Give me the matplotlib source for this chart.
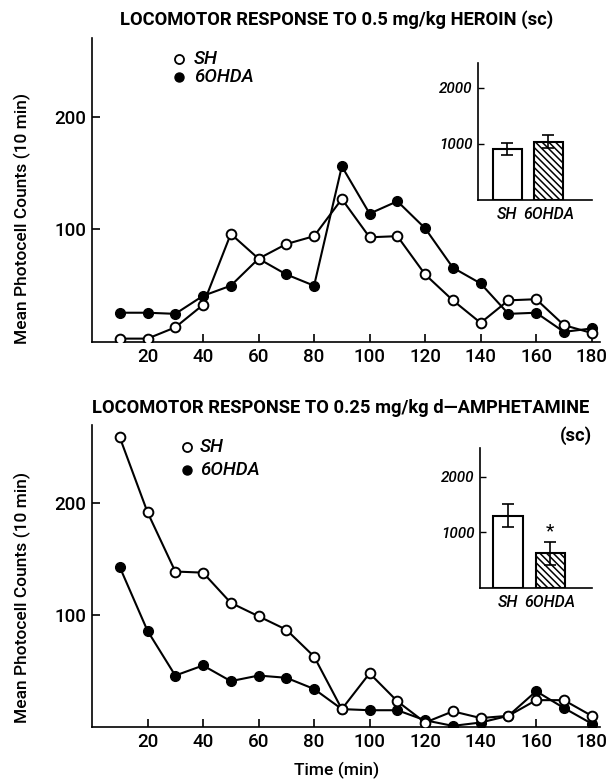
import matplotlib
matplotlib.use("Agg")
import matplotlib.pyplot as plt

# ---------------- data ----------------
time_min = [10, 20, 30, 40, 50, 60, 70, 80, 90, 100, 110, 120, 130, 140, 150, 160, 170, 180]

heroin_sh = [3, 3, 13, 33, 96, 74, 87, 94, 127, 93, 94, 60, 37, 17, 37, 38, 15, 8]
heroin_6ohda = [26, 26, 25, 41, 50, 74, 60, 50, 156, 114, 125, 101, 66, 52, 25, 26, 9, 12]

amph_sh = [259, 192, 139, 138, 111, 99, 87, 63, 16, 48, 23, 4, 14, 8, 10, 24, 24, 10]
amph_6ohda = [143, 86, 46, 55, 41, 46, 44, 34, 16, 15, 15, 6, 1, 4, 10, 32, 17, 3]

groups = ["SH", "6OHDA"]
heroin_totals = [910, 1040]
heroin_sem = [100, 110]
amph_totals = [1300, 622]
amph_sem = [210, 200]

main_yticks = [100, 200]
main_xticks = [20, 40, 60, 80, 100, 120, 140, 160, 180]
inset_yticks = [1000, 2000]

titles = ["LOCOMOTOR RESPONSE TO 0.5 mg/kg HEROIN (sc)",
          "LOCOMOTOR RESPONSE TO 0.25 mg/kg d\u2014AMPHETAMINE"]
ylabel = "Mean Photocell Counts (10 min)"
xlabel = "Time (min)"

# ---------------- style ----------------
plt.rcParams["font.family"] = ["Roboto", "DejaVu Sans"]
plt.rcParams["hatch.linewidth"] = 1.1
W, H = 611, 781
fig = plt.figure(figsize=(W / 100, H / 100), dpi=100)


def frac_box(l, t, r, b):
    return [l / W, 1 - b / H, (r - l) / W, (b - t) / H]


def main_panel(box, sh, ohda):
    ax = fig.add_axes(box)
    ax.plot(time_min, ohda, "-o", color="black", lw=1.5, ms=7,
            mfc="black", mec="black", zorder=3)
    ax.plot(time_min, sh, "-o", color="black", lw=1.5, ms=7,
            mfc="white", mec="black", mew=1.4, zorder=4)
    ax.set_xlim(0, 183)
    ax.set_ylim(0, 270)
    ax.set_xticks(main_xticks)
    ax.set_yticks(main_yticks)
    for s in ["top", "right"]:
        ax.spines[s].set_visible(False)
    for s in ["left", "bottom"]:
        ax.spines[s].set_linewidth(1.2)
    ax.tick_params(direction="in", length=6, width=1.2, labelsize=13.5, pad=4)
    for lbl in ax.get_xticklabels() + ax.get_yticklabels():
        lbl.set_fontweight("medium")
    return ax


def inset(box, vals, sems, ylim, xl, star=False):
    ax = fig.add_axes(box)
    xs = [0, 1]
    ax.bar(xs[0], vals[0], width=0.7, color="white", edgecolor="black", lw=1.5)
    ax.bar(xs[1], vals[1], width=0.7, color="white", edgecolor="black", lw=1.5,
           hatch="\\\\\\\\\\")
    ax.errorbar(xs, vals, yerr=sems, fmt="none", ecolor="black", elinewidth=1.2,
                capsize=4, capthick=1.2)
    ax.set_xlim(*xl)
    ax.set_ylim(0, ylim)
    ax.set_yticks(inset_yticks)
    ax.set_yticklabels([str(v) for v in inset_yticks], style="italic", fontsize=11,
                       fontweight="medium")
    ax.set_xticks(xs)
    ax.set_xticklabels(groups, style="italic", fontsize=11.5, fontweight="medium")
    ax.tick_params(axis="x", length=0, pad=5)
    ax.tick_params(axis="y", direction="in", length=4, width=1, pad=4)
    for s in ["top", "right"]:
        ax.spines[s].set_visible(False)
    ax.spines["left"].set_linewidth(1.2)
    ax.spines["bottom"].set_linewidth(1.2)
    if star:
        ax.text(xs[1], vals[1] + sems[1] + 200, "*", ha="center", va="center",
                fontsize=14)
    return ax


# ---------------- top panel ----------------
ax1 = main_panel(frac_box(92, 38, 600, 342), heroin_sh, heroin_6ohda)
inset(frac_box(478, 63, 592, 200), heroin_totals, heroin_sem, 2440, (-0.70, 2.05))
fig.text(337 / W, 1 - 20 / H, titles[0], ha="center", va="center",
         fontsize=13.2, fontweight="bold")
fig.text(22 / W, 1 - 218 / H, ylabel, rotation=90, ha="center", va="center",
         fontsize=12.5, fontweight="medium")
# legend
fig.lines.append(plt.Line2D([179 / W], [1 - 59 / H], marker="o", ms=6.5, mfc="white",
                            mec="black", mew=1.3, transform=fig.transFigure))
fig.lines.append(plt.Line2D([179 / W], [1 - 77 / H], marker="o", ms=6.5, mfc="black",
                            mec="black", transform=fig.transFigure))
fig.text(194 / W, 1 - 59 / H, "SH", style="italic", fontsize=13.5, va="center",
         fontweight="medium")
fig.text(194 / W, 1 - 77 / H, "6OHDA", style="italic", fontsize=13.5, va="center",
         fontweight="medium")

# ---------------- bottom panel ----------------
ax2 = main_panel(frac_box(92, 425, 600, 727), amph_sh, amph_6ohda)
inset(frac_box(480, 448, 592, 588), amph_totals, amph_sem, 2520, (-0.67, 1.99),
      star=True)
fig.text(92 / W, 1 - 408 / H, titles[1], ha="left", va="center",
         fontsize=13.2, fontweight="bold")
fig.text(592 / W, 1 - 436 / H, "(sc)", ha="right", va="center",
         fontsize=13.2, fontweight="bold")
fig.text(22 / W, 1 - 597 / H, ylabel, rotation=90, ha="center", va="center",
         fontsize=12.5, fontweight="medium")
fig.lines.append(plt.Line2D([187 / W], [1 - 447 / H], marker="o", ms=6.5, mfc="white",
                            mec="black", mew=1.3, transform=fig.transFigure))
fig.lines.append(plt.Line2D([187 / W], [1 - 470 / H], marker="o", ms=6.5, mfc="black",
                            mec="black", transform=fig.transFigure))
fig.text(200 / W, 1 - 447 / H, "SH", style="italic", fontsize=13.5, va="center",
         fontweight="medium")
fig.text(200 / W, 1 - 470 / H, "6OHDA", style="italic", fontsize=13.5, va="center",
         fontweight="medium")
fig.text(337 / W, 1 - 770 / H, xlabel, ha="center", va="center", fontsize=12.5,
         fontweight="medium")

fig.savefig("out.png", dpi=100)
